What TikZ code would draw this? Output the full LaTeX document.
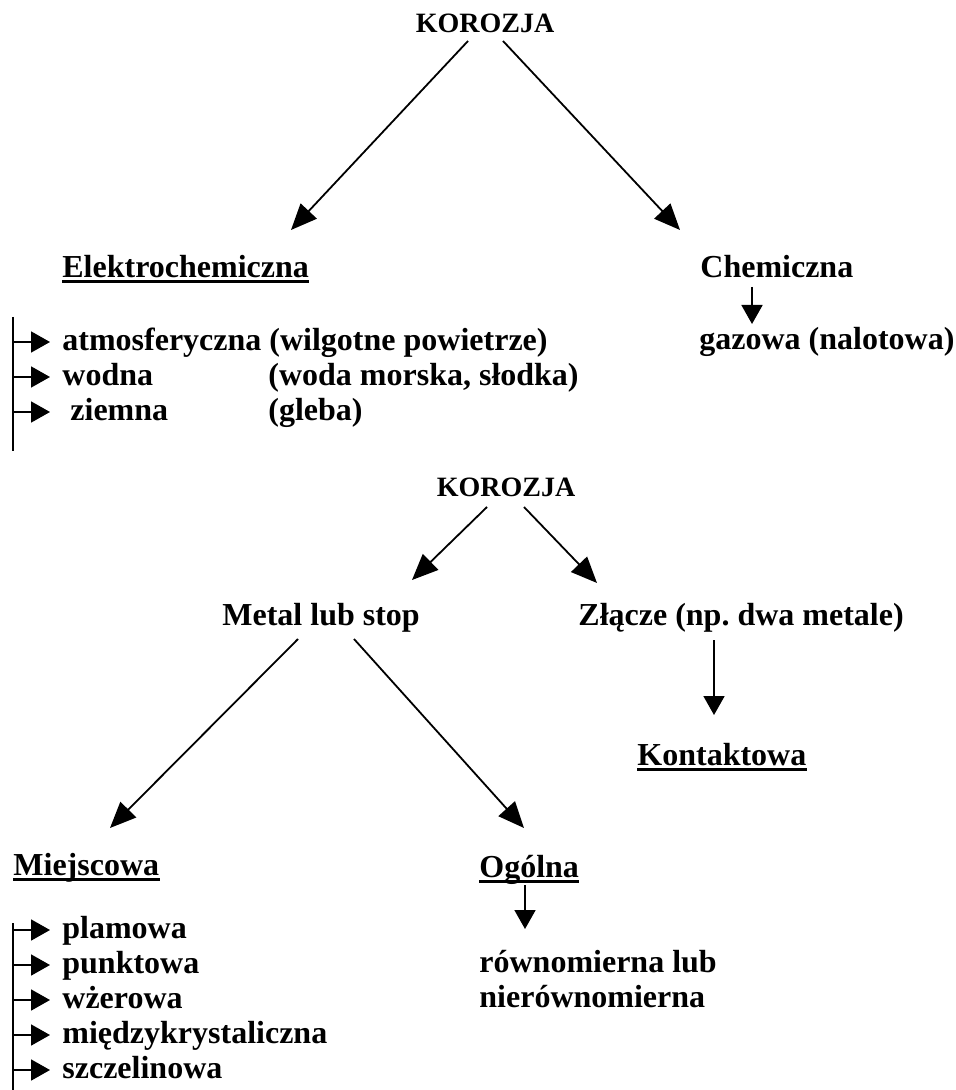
\documentclass[tikz,border=0pt]{standalone}
\usepackage{fontspec}
\setmainfont{Liberation Serif}
\usetikzlibrary{arrows.meta, calc}
\frenchspacing

\tikzset{
    lbl/.style={anchor=base west, inner sep=0pt, font=\fontsize{16}{18}\selectfont\bfseries},
    root/.style={anchor=base, inner sep=0pt, font=\fontsize{14}{16}\selectfont\bfseries},
    arr/.style={-{Triangle[length=13pt, width=11pt]}, line width=0.9pt},
    larr/.style={-{Triangle[length=9.5pt, width=10.5pt]}, line width=0.9pt},
    bar/.style={line width=0.9pt},
    uline/.style={line width=1.5pt}
}

\begin{document}
\begin{tikzpicture}[x=0.5pt, y=-0.5pt]
            \useasboundingbox (0,0) rectangle (956,1090);

            % First tree
            \node[root] (korozjaA) at (485,33) {KOROZJA};
            \node[lbl] (elektro) at (62,278) {Elektrochemiczna};
            \node[lbl] (chem) at (700,278) {Chemiczna};
            \node[lbl] (gaz) at (699,350) {gazowa (nalotowa)};

            \draw[arr] ($(korozjaA.base)+(-17,8)$) -- ($(elektro.base west)+(229,-48)$);
            \draw[arr] ($(korozjaA.base)+(18,8)$) -- ($(chem.base west)+(-20,-48)$);
            \draw[larr] ($(chem.base west)+(52,9)$) -- ($(gaz.base west)+(53,-26)$);

            % Electrochemical list
            \node[lbl] (atm) at (62,351) {atmosferyczna (wilgotne powietrze)};
            \node[lbl] (wod) at (62,386) {wodna};
            \node[lbl] (wodP) at (268,386) {(woda morska, słodka)};
            \node[lbl] (ziem) at (62,421) {\ ziemna};
            \node[lbl] (ziemP) at (268,421) {(gleba)};

            \coordinate (barAtop) at (13,317);
            \coordinate (barAbot) at (13,451);
            \draw[bar] (barAtop) -- (barAbot);
            \foreach \n in {atm, wod, ziem}
                \draw[larr] ($(\n.base west)+(-49,-9)$) -- ($(\n.base west)+(-12,-9)$);

            % Second tree
            \node[root] (korozjaB) at (506,496) {KOROZJA};
            \node[lbl] (metal) at (222,625) {Metal lub stop};
            \node[lbl] (zlacze) at (578,625) {Złącze (np. dwa metale)};
            \node[lbl] (kontakt) at (637,765) {Kontaktowa};
            \node[lbl] (miejsc) at (13,875) {Miejscowa};
            \node[lbl] (ogol) at (479,877) {Ogólna};
            \node[lbl] (rown) at (479,972) {równomierna lub};
            \node[lbl] (nier) at (479,1007) {nierównomierna};

            \draw[arr] ($(korozjaB.base)+(-19,11)$) -- ($(metal.base west)+(190,-45)$);
            \draw[arr] ($(korozjaB.base)+(18,11)$) -- ($(zlacze.base west)+(19,-42)$);
            \draw[arr] ($(metal.base west)+(76,14)$) -- ($(miejsc.base west)+(97,-47)$);
            \draw[arr] ($(metal.base west)+(132,14)$) -- ($(ogol.base west)+(45,-49)$);
            \draw[larr] ($(zlacze.base west)+(136,15)$) -- ($(kontakt.base west)+(77,-50)$);
            \draw[larr] ($(ogol.base west)+(46,8)$) -- ($(rown.base west)+(46,-43)$);

            % Local corrosion list
            \node[lbl] (plam) at (62,938) {plamowa};
            \node[lbl] (punkt) at (62,973) {punktowa};
            \node[lbl] (wzer) at (62,1008) {wżerowa};
            \node[lbl] (miedzy) at (62,1043) {międzykrystaliczna};
            \node[lbl] (szczel) at (62,1078) {szczelinowa};

            \coordinate (barBtop) at (13,923);
            \coordinate (barBbot) at (13,1090);
            \draw[bar] (barBtop) -- (barBbot);
            \foreach \n in {plam, punkt, wzer, miedzy, szczel}
                \draw[larr] ($(\n.base west)+(-49,-8)$) -- ($(\n.base west)+(-12,-8)$);

            % Underlines
            \foreach \n in {elektro, kontakt, miejsc, ogol}
                \draw[uline] ($(\n.base west)+(0,4)$) -- ($(\n.base east)+(0,4)$);
        \end{tikzpicture}
\end{document}
